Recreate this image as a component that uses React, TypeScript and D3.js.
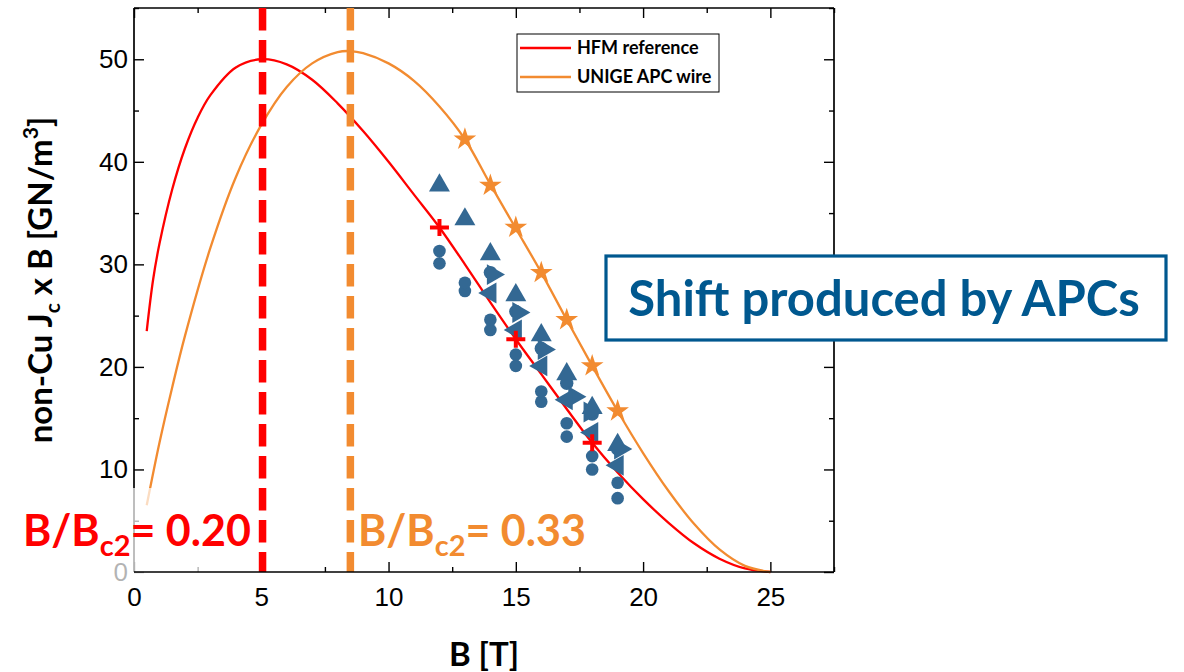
import React, { useEffect, useRef } from "react";
import * as d3 from "d3";

// fitted curves
const hfmB = [0.5, 0.75, 1, 1.5, 2, 2.5, 3, 4, 5, 6, 7, 8, 9, 10, 11, 12, 13, 14, 15, 16, 17, 18, 19, 20, 21, 22, 23, 24, 25];
const hfmJcB = [23.5, 28.5, 32.0, 37.3, 41.3, 44.3, 46.5, 49.2, 50.0, 49.5, 48.0, 45.7, 43.0, 40.0, 36.8, 33.6, 30.0, 26.3, 22.7, 19.3, 15.9, 12.6, 9.7, 7.1, 4.8, 2.8, 1.3, 0.35, 0];
const apcB = [0.5, 1, 1.5, 2, 3, 4, 5, 6, 7, 8, 8.5, 9, 10, 11, 12, 13, 14, 15, 16, 17, 18, 19, 20, 21, 22, 23, 24, 25];
const apcJcB = [6.5, 12.6, 18.0, 23.0, 31.6, 38.5, 43.6, 47.3, 49.6, 50.7, 50.8, 50.6, 49.6, 47.9, 45.4, 42.2, 37.8, 33.5, 29.2, 24.6, 20.1, 15.7, 11.6, 7.9, 4.7, 2.2, 0.6, 0];

// measured points
const starB = [13, 14, 15, 16, 17, 18, 19];
const starJcB = [42.2, 37.7, 33.6, 29.2, 24.6, 20.1, 15.7];
const crossB = [12, 15, 18];
const crossJcB = [33.6, 22.7, 12.6];
const circleB = [12, 13, 14, 15, 16, 17, 18, 19];
const circleHigh = [31.3, 28.2, 24.6, 21.2, 17.6, 14.5, 11.3, 8.7];
const circleLow = [30.1, 27.4, 23.6, 20.1, 16.6, 13.2, 10.0, 7.2];
const circleMidB = [14, 15, 16, 17, 18, 19];
const circleMid = [29.2, 25.4, 21.8, 18.4, 15.4, 12.0];
const triUpB = [12, 13, 14, 15, 16, 17, 18, 19];
const triUp = [37.7, 34.4, 31.0, 27.0, 23.1, 19.3, 16.0, 12.4];
const triLeftB = [14, 15, 16, 17, 18, 19];
const triLeft = [27.2, 23.6, 20.1, 16.8, 13.6, 10.4];
const triRightB = [14.1, 15.1, 16.1, 17.3, 17.9, 19.1];
const triRight = [29.0, 25.3, 21.7, 17.1, 15.6, 12.0];

const xTicks = [0, 5, 10, 15, 20, 25];
const xMinor = [2.5, 7.5, 12.5, 17.5, 22.5, 27.5];
const yTicks = [0, 10, 20, 30, 40, 50];
const yMinor = [5, 15, 25, 35, 45, 55];

const ratioB = [5.05, 8.5];
const ratioText = ["0.20", "0.33"];
const legendLabels = ["HFM reference", "UNIGE APC wire"];

const RED = "#ff0000";
const ORANGE = "#f28b30";
const BLUE = "#336893";
const BOXBLUE = "#00588f";

export default function App() {
  const ref = useRef<SVGSVGElement>(null);

  useEffect(() => {
    draw();
  }, []);

  const draw = () => {
    const svg = d3.select(ref.current);
    svg.selectAll("*").remove();

    const x = d3.scaleLinear().domain([0, 27.5]).range([134, 834]);
    const y = d3.scaleLinear().domain([0, 55]).range([572, 8]);
    const tickFont = "'Liberation Sans', Arial, sans-serif";
    const boldFont = "Lato, 'Open Sans', sans-serif";

    // ticks (inward) on all four sides
    const styleAxis = (g) => {
      g.select(".domain").remove();
      g.selectAll("line").attr("stroke", "#000").attr("stroke-width", 1.4);
      g.selectAll("text").attr("font-family", tickFont).attr("font-size", 26).attr("fill", "#000");
    };
    svg.append("g").attr("transform", "translate(0,572)")
      .call(d3.axisBottom(x).tickValues(xTicks).tickSizeInner(-10).tickSizeOuter(0).tickPadding(16).tickFormat(d3.format("d")))
      .call(styleAxis);
    svg.append("g").attr("transform", "translate(0,572)")
      .call(d3.axisBottom(x).tickValues(xMinor).tickSizeInner(-5).tickSizeOuter(0).tickFormat(() => ""))
      .call(styleAxis);
    svg.append("g").attr("transform", "translate(0,8)")
      .call(d3.axisTop(x).tickValues(xTicks).tickSizeInner(-10).tickSizeOuter(0).tickFormat(() => ""))
      .call(styleAxis);
    svg.append("g").attr("transform", "translate(0,8)")
      .call(d3.axisTop(x).tickValues(xMinor).tickSizeInner(-5).tickSizeOuter(0).tickFormat(() => ""))
      .call(styleAxis);
    svg.append("g").attr("transform", "translate(134,0)")
      .call(d3.axisLeft(y).tickValues(yTicks).tickSizeInner(-10).tickSizeOuter(0).tickPadding(6).tickFormat(d3.format("d")))
      .call(styleAxis);
    svg.append("g").attr("transform", "translate(134,0)")
      .call(d3.axisLeft(y).tickValues(yMinor).tickSizeInner(-5).tickSizeOuter(0).tickFormat(() => ""))
      .call(styleAxis);
    svg.append("g").attr("transform", "translate(834,0)")
      .call(d3.axisRight(y).tickValues(yTicks).tickSizeInner(-10).tickSizeOuter(0).tickFormat(() => ""))
      .call(styleAxis);
    svg.append("g").attr("transform", "translate(834,0)")
      .call(d3.axisRight(y).tickValues(yMinor).tickSizeInner(-5).tickSizeOuter(0).tickFormat(() => ""))
      .call(styleAxis);

    // frame: left, top, right (bottom drawn later, over the label box)
    const frame = svg.append("g").attr("stroke", "#000").attr("stroke-width", 1.7);
    frame.append("line").attr("x1", x(0)).attr("x2", x(0)).attr("y1", y(0)).attr("y2", y(55));
    frame.append("line").attr("x1", x(0)).attr("x2", x(27.5)).attr("y1", y(55)).attr("y2", y(55));
    frame.append("line").attr("x1", x(27.5)).attr("x2", x(27.5)).attr("y1", y(0)).attr("y2", y(55));

    // fitted curves
    const line = d3.line().x((d) => x(d[0])).y((d) => y(d[1])).curve(d3.curveCatmullRom);
    svg.append("path").datum(hfmB.map((b, i) => [b, hfmJcB[i]]))
      .attr("d", line).attr("fill", "none").attr("stroke", RED).attr("stroke-width", 2.3);
    svg.append("path").datum(apcB.map((b, i) => [b, apcJcB[i]]))
      .attr("d", line).attr("fill", "none").attr("stroke", ORANGE).attr("stroke-width", 2.3);

    // blue measured points
    const drawSymbols = (bs, vs, type, size, rotate) => {
      svg.append("g").selectAll("path").data(bs).enter().append("path")
        .attr("d", d3.symbol().type(type).size(size)())
        .attr("transform", (d, i) => `translate(${x(d)},${y(vs[i])}) rotate(${rotate})`)
        .attr("fill", BLUE);
    };
    drawSymbols(circleB, circleLow, d3.symbolCircle, 125, 0);
    drawSymbols(circleB, circleHigh, d3.symbolCircle, 125, 0);
    drawSymbols(circleMidB, circleMid, d3.symbolCircle, 140, 0);
    drawSymbols(triRightB, triRight, d3.symbolTriangle, 190, 90);
    drawSymbols(triLeftB, triLeft, d3.symbolTriangle, 190, -90);
    drawSymbols(triUpB, triUp, d3.symbolTriangle, 190, 0);

    // red crosses
    svg.append("g").selectAll("path").data(crossB).enter().append("path")
      .attr("d", "M-9.5,0H9.5M0,-8.5V8.5")
      .attr("transform", (d, i) => `translate(${x(d)},${y(crossJcB[i])})`)
      .attr("stroke", RED).attr("stroke-width", 4).attr("fill", "none");

    // orange stars
    svg.append("g").selectAll("path").data(starB).enter().append("path")
      .attr("d", d3.symbol().type(d3.symbolStar).size(160)())
      .attr("transform", (d, i) => `translate(${x(d)},${y(starJcB[i])})`)
      .attr("fill", ORANGE);

    // dashed B/Bc2 markers
    [RED, ORANGE].forEach((c, i) => {
      svg.append("line")
        .attr("x1", x(ratioB[i])).attr("x2", x(ratioB[i]))
        .attr("y1", y(55)).attr("y2", y(0))
        .attr("stroke", c).attr("stroke-width", 7.5).attr("stroke-dasharray", "22.5 9.5");
    });

    // translucent box behind red label
    svg.append("rect").attr("x", 18).attr("y", 488).attr("width", 240).attr("height", 100)
      .attr("fill", "#fff").attr("opacity", 0.7);

    svg.append("line").attr("x1", x(0)).attr("x2", x(27.5)).attr("y1", y(0)).attr("y2", y(0))
      .attr("stroke", "#000").attr("stroke-width", 1.7);

    const labelX = [23, 358];
    [RED, ORANGE].forEach((c, i) => {
      const t = svg.append("text").attr("x", labelX[i]).attr("y", 546)
        .attr("font-family", boldFont).attr("font-weight", "bold").attr("font-size", 43).attr("fill", c);
      t.append("tspan").text("B/B");
      t.append("tspan").attr("font-size", 29).attr("dy", 10).text("c2");
      t.append("tspan").attr("dy", -10).text("= " + ratioText[i]);
    });

    // axis titles
    svg.append("text").attr("x", 484).attr("y", 666).attr("text-anchor", "middle")
      .attr("font-family", boldFont).attr("font-weight", "bold").attr("font-size", 33)
      .text("B [T]");
    const yt = svg.append("text").attr("transform", "translate(52,280) rotate(-90)")
      .attr("text-anchor", "middle")
      .attr("font-family", boldFont).attr("font-weight", "bold").attr("font-size", 33);
    yt.append("tspan").text("non-Cu J");
    yt.append("tspan").attr("font-size", 21).attr("dy", 8).text("c");
    yt.append("tspan").attr("dy", -8).text(" x B [GN/m");
    yt.append("tspan").attr("font-size", 21).attr("dy", -14).text("3");
    yt.append("tspan").attr("dy", 14).text("]");

    // legend
    const lg = svg.append("g");
    lg.append("rect").attr("x", 517).attr("y", 34).attr("width", 202).attr("height", 58)
      .attr("fill", "#fff").attr("stroke", "#000").attr("stroke-width", 1);
    [RED, ORANGE].forEach((c, i) => {
      const ly = 48 + i * 29;
      lg.append("line").attr("x1", 520).attr("x2", 571).attr("y1", ly).attr("y2", ly)
        .attr("stroke", c).attr("stroke-width", 2.3);
      lg.append("text").attr("x", 577).attr("y", ly + 6)
        .attr("font-family", boldFont).attr("font-weight", "bold").attr("font-size", 18)
        .text(legendLabels[i]);
    });

    // annotation box
    svg.append("rect").attr("x", 606).attr("y", 256).attr("width", 560).attr("height", 84)
      .attr("fill", "#fff").attr("stroke", BOXBLUE).attr("stroke-width", 3.2);
    svg.append("text").attr("x", 884).attr("y", 316).attr("text-anchor", "middle")
      .attr("font-family", boldFont).attr("font-weight", "bold").attr("font-size", 49)
      .attr("fill", BOXBLUE).text("Shift produced by APCs");
  };

  return (
    <svg
      ref={ref}
      width={1184}
      height={672}
      style={{ position: "absolute", left: 0, top: 0, background: "#fff" }}
    />
  );
}
